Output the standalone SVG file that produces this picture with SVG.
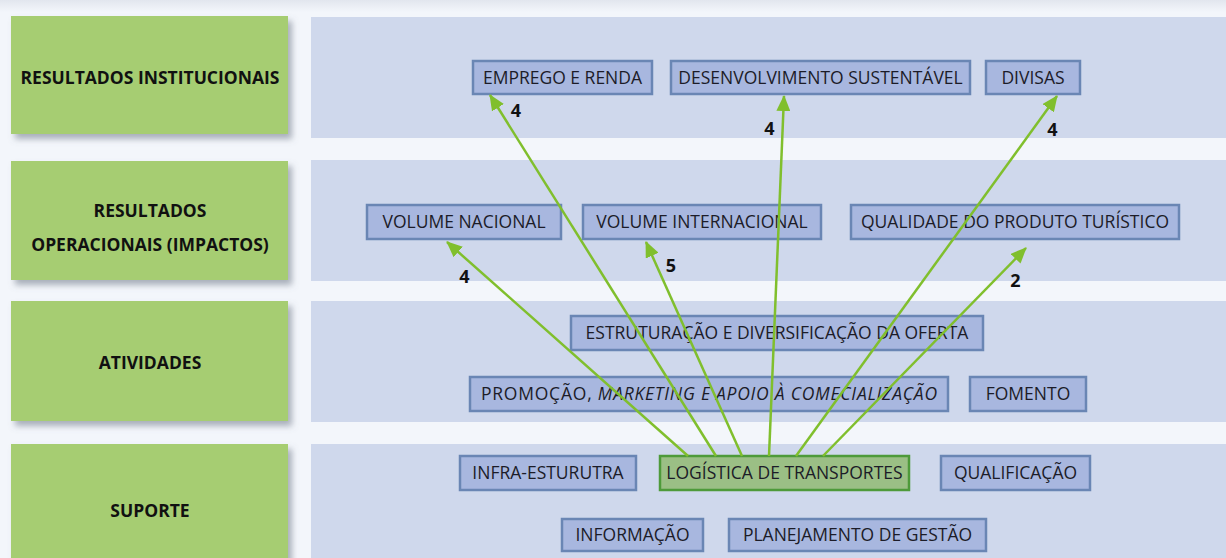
<svg xmlns="http://www.w3.org/2000/svg" width="1226" height="558" viewBox="0 0 1226 558">
<defs>
<linearGradient id="topg" x1="0" y1="0" x2="0" y2="1"><stop offset="0" stop-color="#e2e6ee"/><stop offset="1" stop-color="#f3f6fb"/></linearGradient>
<filter id="sh" x="-10%" y="-10%" width="130%" height="140%"><feDropShadow dx="4" dy="5" stdDeviation="3" flood-color="#6d7585" flood-opacity="0.55"/></filter>
<marker id="ah" markerUnits="userSpaceOnUse" markerWidth="16" markerHeight="14" refX="15" refY="7" orient="auto"><path d="M0,0 L16,7 L0,14 z" fill="#80bf2d"/></marker>
<style>
.lab{fill:#a6cd72;filter:url(#sh)}
.pan{fill:#cfd8ec}
.nd{fill:#a8b7df;stroke:#6a86b4;stroke-width:2.5}
.ndg{fill:#9bbf85;stroke:#4e9a3a;stroke-width:2.5}
.lt{font-family:"Open Sans","DejaVu Sans",sans-serif;font-weight:bold;font-size:17.5px;fill:#111;text-anchor:middle}
.nt{font-family:"Open Sans","DejaVu Sans",sans-serif;font-size:17.5px;fill:#1c1c28;text-anchor:middle}
.num{font-family:"Open Sans","DejaVu Sans",sans-serif;font-weight:bold;font-size:18px;fill:#111;text-anchor:middle}
.cn{stroke:#80bf2d;stroke-width:2.5;fill:none;marker-end:url(#ah)}
</style>
</defs>
<rect x="0" y="0" width="1226" height="558" fill="#f3f6fb"/>
<rect x="0" y="0" width="1226" height="12" fill="url(#topg)"/>
<g id="panels">
<rect class="pan" x="311" y="17" width="915" height="121"/>
<rect class="pan" x="311" y="160" width="915" height="121"/>
<rect class="pan" x="311" y="301" width="915" height="121"/>
<rect class="pan" x="311" y="444" width="915" height="114"/>
</g>
<g id="lab-inst"><rect class="lab" x="11" y="16" width="277" height="118"/><text class="lt" x="150" y="83.5">RESULTADOS INSTITUCIONAIS</text></g>
<g id="lab-oper"><rect class="lab" x="11" y="161" width="277" height="119"/><text class="lt" x="150" y="216.5">RESULTADOS</text><text class="lt" x="150" y="250.5">OPERACIONAIS (IMPACTOS)</text></g>
<g id="lab-ativ"><rect class="lab" x="11" y="301" width="277" height="120"/><text class="lt" x="150" y="369">ATIVIDADES</text></g>
<g id="lab-sup"><rect class="lab" x="11" y="444" width="277" height="120"/><text class="lt" x="150" y="517">SUPORTE</text></g>

<g id="n-emprego"><rect class="nd" x="473" y="61" width="179" height="33"/><text class="nt" x="562.5" y="83.8">EMPREGO E RENDA</text></g>
<g id="n-desenv"><rect class="nd" x="671" y="61" width="299" height="33"/><text class="nt" x="820.5" y="83.8">DESENVOLVIMENTO SUSTENTÁVEL</text></g>
<g id="n-divisas"><rect class="nd" x="986" y="61" width="94" height="33"/><text class="nt" x="1033" y="83.8">DIVISAS</text></g>

<g id="n-volnac"><rect class="nd" x="367" y="205" width="194" height="34"/><text class="nt" x="464" y="228">VOLUME NACIONAL</text></g>
<g id="n-volint"><rect class="nd" x="583" y="205" width="238" height="34"/><text class="nt" x="702" y="228">VOLUME INTERNACIONAL</text></g>
<g id="n-qual"><rect class="nd" x="851" y="205" width="328" height="34"/><text class="nt" x="1015" y="228">QUALIDADE DO PRODUTO TURÍSTICO</text></g>

<g id="n-estrut"><rect class="nd" x="571" y="316" width="412" height="34"/><text class="nt" x="777" y="339">ESTRUTURAÇÃO E DIVERSIFICAÇÃO DA OFERTA</text></g>
<g id="n-promo"><rect class="nd" x="470" y="377" width="478" height="34"/><text class="nt" x="709" y="400" textLength="456" lengthAdjust="spacing">PROMOÇÃO, <tspan font-style="italic">MARKETING E APOIO À COMECIALIZAÇÃO</tspan></text></g>
<g id="n-fomento"><rect class="nd" x="970" y="377" width="116" height="34"/><text class="nt" x="1028" y="400">FOMENTO</text></g>

<g id="n-infra"><rect class="nd" x="460" y="456" width="176" height="34"/><text class="nt" x="548" y="479">INFRA-ESTURUTRA</text></g>
<g id="n-logist"><rect class="ndg" x="660" y="456" width="249" height="34"/><text class="nt" x="784.5" y="479">LOGÍSTICA DE TRANSPORTES</text></g>
<g id="n-qualif"><rect class="nd" x="941" y="456" width="149" height="34"/><text class="nt" x="1015.5" y="479">QUALIFICAÇÃO</text></g>
<g id="n-info"><rect class="nd" x="562" y="519" width="141" height="32"/><text class="nt" x="632.5" y="541">INFORMAÇÃO</text></g>
<g id="n-plan"><rect class="nd" x="729" y="519" width="257" height="32"/><text class="nt" x="857.5" y="541">PLANEJAMENTO DE GESTÃO</text></g>

<g id="connectors">
<line class="cn" x1="716" y1="456" x2="490" y2="95"/>
<line class="cn" x1="769" y1="456" x2="784" y2="96"/>
<line class="cn" x1="796" y1="456" x2="1057" y2="96"/>
<line class="cn" x1="688" y1="456" x2="447" y2="242"/>
<line class="cn" x1="742" y1="456" x2="646" y2="242"/>
<line class="cn" x1="823" y1="456" x2="1026" y2="248"/>
<text class="num" x="516" y="116.5">4</text>
<text class="num" x="769.5" y="135">4</text>
<text class="num" x="1052.5" y="135.5">4</text>
<text class="num" x="464.5" y="282.5">4</text>
<text class="num" x="671" y="272">5</text>
<text class="num" x="1015.5" y="286.5">2</text>
</g>
</svg>
